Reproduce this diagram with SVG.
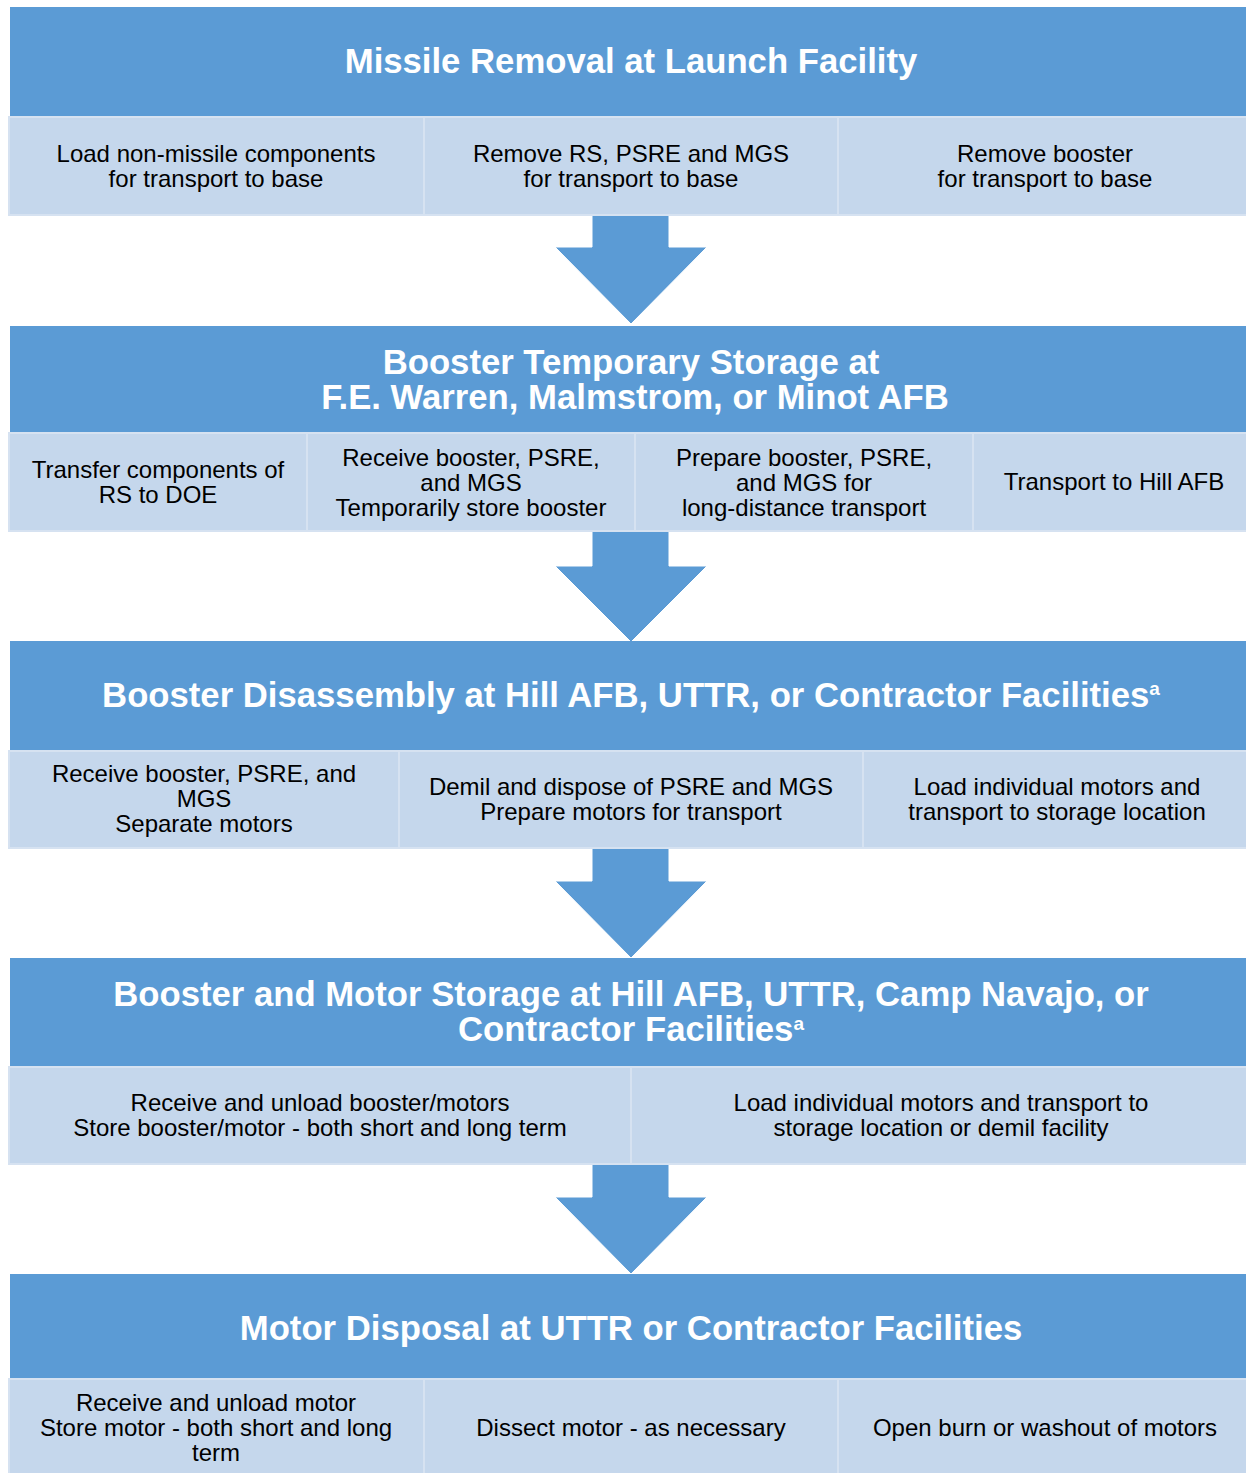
<svg xmlns="http://www.w3.org/2000/svg" width="1246" height="1473" viewBox="0 0 1246 1473">
<defs>
<style>
.hdr{fill:#5B9BD5;}
.cell{fill:#C5D7EC;stroke:#D6E2F1;stroke-width:2;}
.ht{font-family:"Liberation Sans",Arial,sans-serif;font-weight:bold;font-size:34.7px;fill:#FFFFFF;text-anchor:middle;}
.ct{font-family:"Liberation Sans",Arial,sans-serif;font-size:24px;fill:#000000;text-anchor:middle;}
.sup{font-size:19px;}
.arr{fill:#5B9BD5;stroke:#FFFFFF;stroke-width:1;}
</style>
</defs>
<rect width="1246" height="1473" fill="#FFFFFF"/>

<g id="connectors">
<path class="arr" d="M592,215 L669,215 L669,247 L707,247 L631,324 L555,247 L592,247 Z"/>
<path class="arr" d="M592,531 L669,531 L669,566 L707,566 L631,642 L555,566 L592,566 Z"/>
<path class="arr" d="M592,848 L669,848 L669,881 L707,881 L631,958 L555,881 L592,881 Z"/>
<path class="arr" d="M592,1164 L669,1164 L669,1197 L707,1197 L631,1274 L555,1197 L592,1197 Z"/>
</g>

<g id="stage1">
<rect class="hdr" x="10" y="7" width="1240" height="110"/>
<text class="ht" x="631" y="73">Missile Removal at Launch Facility</text>
<g id="s1c1"><rect class="cell" x="9" y="117" width="415" height="98"/>
<text class="ct" x="216" y="162">Load non-missile components</text><text class="ct" x="216" y="187">for transport to base</text></g>
<g id="s1c2"><rect class="cell" x="424" y="117" width="414" height="98"/>
<text class="ct" x="631" y="162">Remove RS, PSRE and MGS</text><text class="ct" x="631" y="187">for transport to base</text></g>
<g id="s1c3"><rect class="cell" x="838" y="117" width="412" height="98"/>
<text class="ct" x="1045" y="162">Remove booster</text><text class="ct" x="1045" y="187">for transport to base</text></g>
</g>

<g id="stage2">
<rect class="hdr" x="10" y="326" width="1240" height="107"/>
<text class="ht" x="631" y="374">Booster Temporary Storage at</text>
<text class="ht" x="635" y="409">F.E. Warren, Malmstrom, or Minot AFB</text>
<g id="s2c1"><rect class="cell" x="9" y="433" width="298" height="98"/>
<text class="ct" x="158" y="478">Transfer components of</text><text class="ct" x="158" y="503">RS to DOE</text></g>
<g id="s2c2"><rect class="cell" x="307" y="433" width="328" height="98"/>
<text class="ct" x="471" y="466">Receive booster, PSRE,</text><text class="ct" x="471" y="491">and MGS</text><text class="ct" x="471" y="516">Temporarily store booster</text></g>
<g id="s2c3"><rect class="cell" x="635" y="433" width="338" height="98"/>
<text class="ct" x="804" y="466">Prepare booster, PSRE,</text><text class="ct" x="804" y="491">and MGS for</text><text class="ct" x="804" y="516">long-distance transport</text></g>
<g id="s2c4"><rect class="cell" x="973" y="433" width="277" height="98"/>
<text class="ct" x="1114" y="490">Transport to Hill AFB</text></g>
</g>

<g id="stage3">
<rect class="hdr" x="10" y="641" width="1240" height="110"/>
<text class="ht" x="631" y="707">Booster Disassembly at Hill AFB, UTTR, or Contractor Facilities<tspan class="sup" dy="-12">a</tspan></text>
<g id="s3c1"><rect class="cell" x="9" y="751" width="390" height="97"/>
<text class="ct" x="204" y="782">Receive booster, PSRE, and</text><text class="ct" x="204" y="807">MGS</text><text class="ct" x="204" y="832">Separate motors</text></g>
<g id="s3c2"><rect class="cell" x="399" y="751" width="464" height="97"/>
<text class="ct" x="631" y="795">Demil and dispose of PSRE and MGS</text><text class="ct" x="631" y="820">Prepare motors for transport</text></g>
<g id="s3c3"><rect class="cell" x="863" y="751" width="387" height="97"/>
<text class="ct" x="1057" y="795">Load individual motors and</text><text class="ct" x="1057" y="820">transport to storage location</text></g>
</g>

<g id="stage4">
<rect class="hdr" x="10" y="958" width="1240" height="109"/>
<text class="ht" x="631" y="1006">Booster and Motor Storage at Hill AFB, UTTR, Camp Navajo, or</text>
<text class="ht" x="631" y="1041">Contractor Facilities<tspan class="sup" dy="-11">a</tspan></text>
<g id="s4c1"><rect class="cell" x="9" y="1067" width="622" height="97"/>
<text class="ct" x="320" y="1111">Receive and unload booster/motors</text><text class="ct" x="320" y="1136">Store booster/motor - both short and long term</text></g>
<g id="s4c2"><rect class="cell" x="631" y="1067" width="619" height="97"/>
<text class="ct" x="941" y="1111">Load individual motors and transport to</text><text class="ct" x="941" y="1136">storage location or demil facility</text></g>
</g>

<g id="stage5">
<rect class="hdr" x="10" y="1274" width="1240" height="105"/>
<text class="ht" x="631" y="1340">Motor Disposal at UTTR or Contractor Facilities</text>
<g id="s5c1"><rect class="cell" x="9" y="1379" width="415" height="100"/>
<text class="ct" x="216" y="1411">Receive and unload motor</text><text class="ct" x="216" y="1436">Store motor - both short and long</text><text class="ct" x="216" y="1461">term</text></g>
<g id="s5c2"><rect class="cell" x="424" y="1379" width="414" height="100"/>
<text class="ct" x="631" y="1436">Dissect motor - as necessary</text></g>
<g id="s5c3"><rect class="cell" x="838" y="1379" width="412" height="100"/>
<text class="ct" x="1045" y="1436">Open burn or washout of motors</text></g>
</g>
</svg>
